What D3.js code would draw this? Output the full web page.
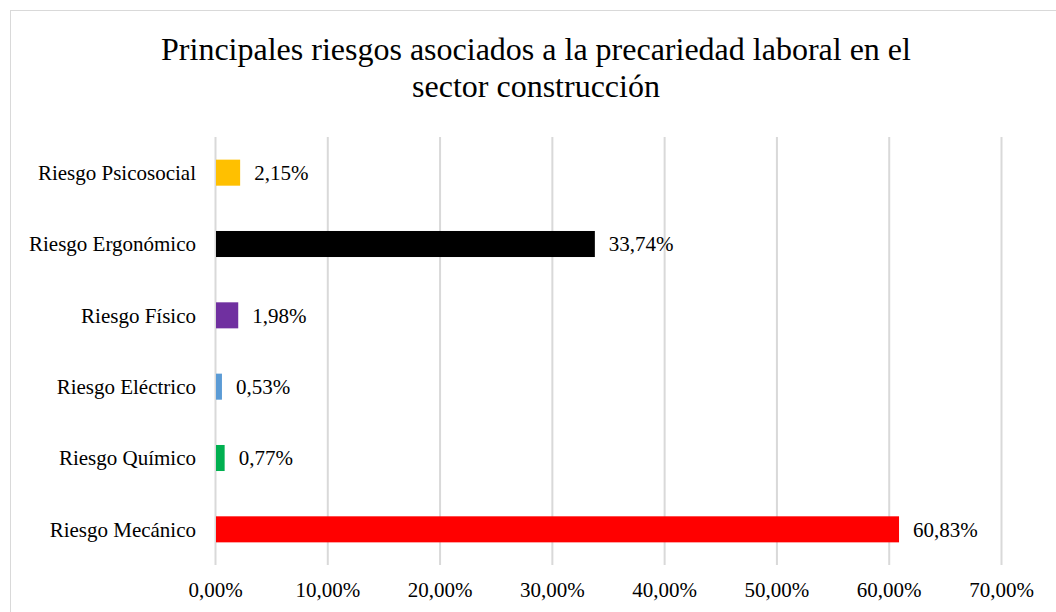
<!DOCTYPE html>
<html>
<head>
<meta charset="utf-8">
<script src="https://cdn.jsdelivr.net/npm/d3@7"></script>
<style>
  html, body { margin: 0; padding: 0; background: #fff; }
  svg { display: block; font-family: "Liberation Serif", "Times New Roman", serif; }
</style>
</head>
<body>
<svg id="chart" width="1056" height="612"></svg>
<script>
var titleLines = ['Principales riesgos asociados a la precariedad laboral en el', 'sector construcción'];
var categories = ['Riesgo Psicosocial', 'Riesgo Ergonómico', 'Riesgo Físico', 'Riesgo Eléctrico', 'Riesgo Químico', 'Riesgo Mecánico'];
var values = [2.15, 33.74, 1.98, 0.53, 0.77, 60.83];
var colors = ['#FFC000', '#000000', '#7030A0', '#5B9BD5', '#00B050', '#FF0000'];
var xTicks = [0, 10, 20, 30, 40, 50, 60, 70];

(function () {
  'use strict';

  var svg = d3.select('#chart');
  var margin = { top: 137, left: 215, right: 1056 - 1001, bottom: 612 - 565 };
  var width = 1056 - margin.left - margin.right;
  var height = 612 - margin.top - margin.bottom;

  var fmt = function (v) { return v.toFixed(2).replace('.', ',') + '%'; };

  // chart frame (cropped at the right and bottom in the original)
  svg.append('rect')
    .attr('x', 10.5)
    .attr('y', 10.5)
    .attr('width', 1100)
    .attr('height', 700)
    .attr('fill', '#fff')
    .attr('stroke', '#d9d9d9')
    .attr('stroke-width', 1);

  svg.append('text')
    .attr('x', 536)
    .attr('y', 60)
    .attr('text-anchor', 'middle')
    .attr('font-size', 32)
    .attr('fill', '#000')
    .selectAll('tspan')
    .data(titleLines)
    .enter()
    .append('tspan')
    .attr('x', 536)
    .attr('dy', function (d, i) { return i ? 37 : 0; })
    .text(function (d) { return d; });

  var xScale = d3.scaleLinear().domain([0, 70]).range([0, width]);
  var yScale = d3.scaleBand().domain(categories).range([0, height]).paddingInner(0.635).paddingOuter(0.3175);

  var g = svg.append('g')
    .attr('transform', 'translate(' + margin.left + ',' + margin.top + ')');

  // gridlines
  var xAxis = d3.axisBottom(xScale)
    .tickValues(xTicks)
    .tickSize(-height)
    .tickPadding(17)
    .tickFormat(fmt);

  var axisG = g.append('g')
    .attr('class', 'x-axis')
    .attr('transform', 'translate(0,' + height + ')')
    .call(xAxis);

  axisG.select('.domain').remove();
  axisG.selectAll('.tick line')
    .attr('stroke', '#d9d9d9')
    .attr('stroke-width', 2);
  axisG.selectAll('.tick text')
    .attr('font-size', 21)
    .attr('font-family', '"Liberation Serif", "Times New Roman", serif')
    .attr('fill', '#000');

  var rows = categories.map(function (c, i) {
    return { name: c, value: values[i], color: colors[i] };
  });

  g.selectAll('.bar')
    .data(rows)
    .enter()
    .append('rect')
    .attr('class', 'bar')
    .attr('x', xScale(0) + 1)
    .attr('y', function (d) { return yScale(d.name); })
    .attr('width', function (d) { return xScale(d.value) - xScale(0); })
    .attr('height', yScale.bandwidth())
    .attr('fill', function (d) { return d.color; });

  g.selectAll('.value-label')
    .data(rows)
    .enter()
    .append('text')
    .attr('class', 'value-label')
    .attr('x', function (d) { return xScale(d.value) + 15; })
    .attr('y', function (d) { return yScale(d.name) + yScale.bandwidth() / 2; })
    .attr('dy', '0.35em')
    .attr('font-size', 21)
    .attr('fill', '#000')
    .text(function (d) { return fmt(d.value); });

  g.selectAll('.cat-label')
    .data(rows)
    .enter()
    .append('text')
    .attr('class', 'cat-label')
    .attr('x', -19)
    .attr('y', function (d) { return yScale(d.name) + yScale.bandwidth() / 2; })
    .attr('dy', '0.35em')
    .attr('text-anchor', 'end')
    .attr('font-size', 21)
    .attr('fill', '#000')
    .text(function (d) { return d.name; });
})();
</script>
</body>
</html>
